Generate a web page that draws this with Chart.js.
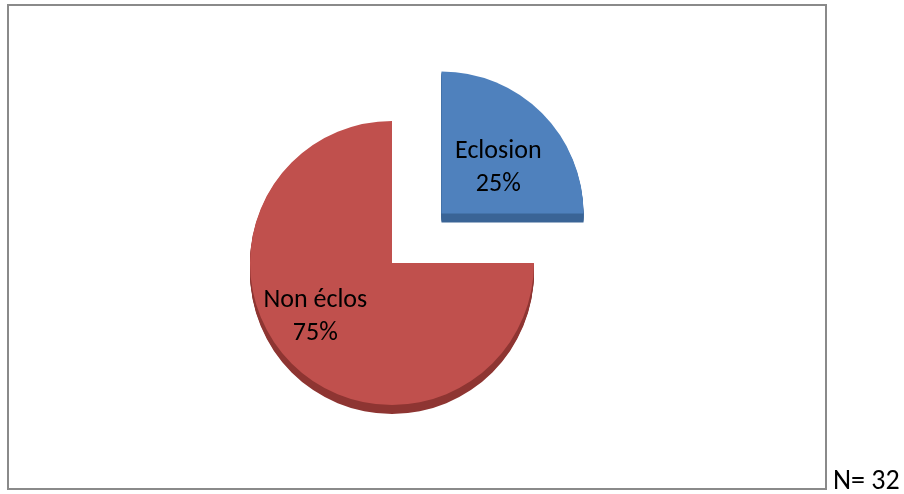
<!DOCTYPE html>
<html>
<head>
<meta charset="utf-8">
<script src="https://cdn.jsdelivr.net/npm/chart.js@4/dist/chart.umd.min.js"></script>
<style>
  html, body { margin: 0; padding: 0; background: #ffffff; }
  #wrap { position: relative; width: 904px; height: 494px; overflow: hidden; }
  #box { position: absolute; left: 7px; top: 4px; width: 816px; height: 482px; border: 2px solid #8a8a8a; }
  #c { position: absolute; left: 0; top: -60px; }
  #note { position: absolute; left: 833px; top: 466px; line-height: 28px; font-family: Carlito, Calibri, Lato, sans-serif; font-size: 28px; color: #000; white-space: nowrap; }
</style>
</head>
<body>
<div id="wrap">
  <div id="box"></div>
  <canvas id="c" width="904" height="620"></canvas>
  <div id="note">N= 32</div>
</div>
<script>
const categories = ["Eclosion", "Non éclos"];
const percentages = [25, 75];
const sampleSize = 32;

const faceColors = ["#4f81bd", "#c0504d"];
const sideColors = ["#3a6496", "#8e3532"];
const offsets = [280, 0];
// label placement relative to arc centre, as fractions of the radius
const labelShift = [[0.40, -0.33], [-0.54, 0.37]];

document.getElementById('note').textContent = 'N= ' + sampleSize;

function arcCentre(arc) {
  const p = arc.getProps(['x', 'y', 'startAngle', 'endAngle', 'outerRadius'], true);
  const mid = (p.startAngle + p.endAngle) / 2;
  const off = (arc.options.offset || 0) / 4; // Chart.js v4 arcs translate by offset/4
  return { p, cx: p.x + Math.cos(mid) * off, cy: p.y + Math.sin(mid) * off };
}

const sidePlugin = {
  id: 'side3d',
  beforeDatasetsDraw(chart) {
    const ctx = chart.ctx;
    const meta = chart.getDatasetMeta(0);
    meta.data.forEach((arc, i) => {
      const { p, cx, cy } = arcCentre(arc);
      const depth = 9;
      ctx.save();
      ctx.fillStyle = sideColors[i];
      for (let d = 1; d <= depth; d++) {
        ctx.beginPath();
        ctx.moveTo(cx, cy + d);
        ctx.arc(cx, cy + d, p.outerRadius, p.startAngle, p.endAngle);
        ctx.closePath();
        ctx.fill();
      }
      ctx.restore();
    });
  }
};

const labelPlugin = {
  id: 'sliceLabels',
  afterDatasetsDraw(chart) {
    const ctx = chart.ctx;
    const meta = chart.getDatasetMeta(0);
    meta.data.forEach((arc, i) => {
      const { p, cx, cy } = arcCentre(arc);
      const lx = cx + labelShift[i][0] * p.outerRadius;
      const ly = cy + labelShift[i][1] * p.outerRadius;
      ctx.save();
      ctx.fillStyle = '#000';
      ctx.font = '26px Carlito, Calibri, Lato, sans-serif';
      ctx.textAlign = 'center';
      ctx.textBaseline = 'middle';
      ctx.fillText(chart.data.labels[i], lx, ly - 15);
      ctx.fillText(chart.data.datasets[0].data[i] + '%', lx, ly + 18);
      ctx.restore();
    });
  }
};

new Chart(document.getElementById('c'), {
  type: 'pie',
  data: {
    labels: categories,
    datasets: [{
      data: percentages,
      backgroundColor: faceColors,
      borderWidth: 0,
      offset: offsets,
      hoverOffset: 0
    }]
  },
  options: {
    responsive: false,
    animation: false,
    events: [],
    layout: { padding: { left: 110, right: 230, top: 41, bottom: 15 } },
    plugins: {
      legend: { display: false },
      tooltip: { enabled: false },
      title: { display: false }
    }
  },
  plugins: [sidePlugin, labelPlugin]
});
</script>
</body>
</html>
